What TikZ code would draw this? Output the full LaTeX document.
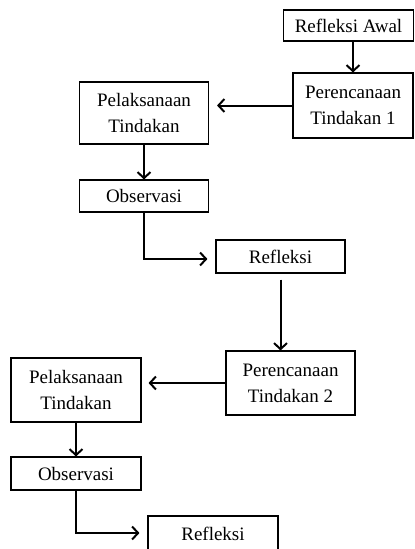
\documentclass[tikz,border=0pt]{standalone}
\usepackage{fontspec}
\setmainfont{Liberation Serif}
\usetikzlibrary{arrows.meta,calc}
\tikzset{
  kotak/.style = {draw, line width=1.1pt, align=center, inner sep=0pt,
    font=\fontsize{19}{26}\selectfont},
  panah/.style = {line width=2pt, -{Straight Barb[length=6pt,width=13pt,line width=2pt]}}
}
\begin{document}
\begin{tikzpicture}[x=1pt, y=-1pt]
\useasboundingbox (0,0) rectangle (415,549);
\node [kotak, minimum width=130, minimum height=31] (awal) at (348.5,25.5) {Refleksi Awal};
\node [kotak, minimum width=120, minimum height=65] (ren1) at (353,105.5) {Perencanaan\\Tindakan 1};
\node [kotak, minimum width=129, minimum height=62] (pel1) at (144,113) {Pelaksanaan\\Tindakan};
\node [kotak, minimum width=129, minimum height=32] (obs1) at (144,196) {Observasi};
\node [kotak, minimum width=129, minimum height=33] (ref1) at (280.5,256.5) {Refleksi};
\node [kotak, minimum width=129, minimum height=64] (ren2) at (290.5,383) {Perencanaan\\Tindakan 2};
\node [kotak, minimum width=130, minimum height=64] (pel2) at (76,390) {Pelaksanaan\\Tindakan};
\node [kotak, minimum width=130, minimum height=33] (obs2) at (76,473.5) {Observasi};
\node [kotak, minimum width=130, minimum height=36] (ref2) at (213,534) {Refleksi};
% siklus 1
\draw [panah] (awal.south -| ren1.north) -- (ren1.north);
\draw [panah, shorten >=8pt] (ren1.west) -- (ren1.west -| pel1.east);
\draw [panah] (pel1.south) -- (obs1.north);
\draw [panah, shorten >=8pt] (obs1.south) |- ($(ref1.west)+(0,2.5)$);
% siklus 2
\draw [panah, shorten <=6pt] (ref1.south) -- (ref1.south |- ren2.north);
\draw [panah, shorten >=7pt] (ren2.west) -- (ren2.west -| pel2.east);
\draw [panah] (pel2.south) -- (obs2.north);
\draw [panah, shorten >=8pt] (obs2.south) |- ($(ref2.west)+(0,-1)$);
\end{tikzpicture}
\end{document}
